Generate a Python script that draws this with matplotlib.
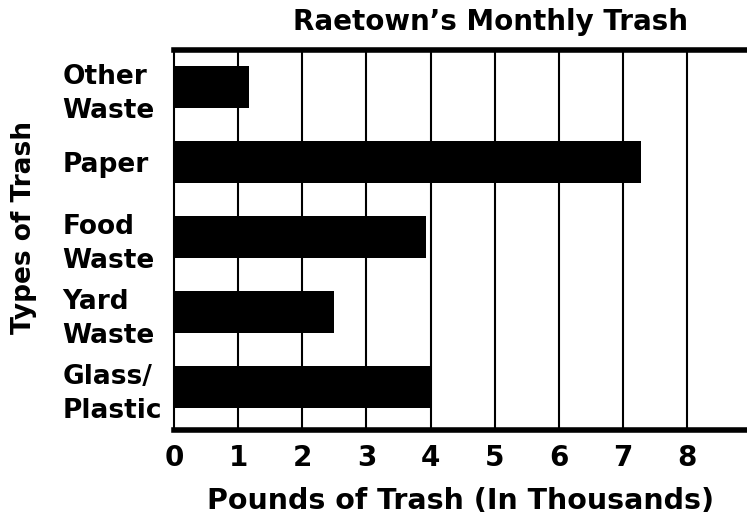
import numpy as np
import matplotlib.pyplot as plt

categories = ['Glass/\nPlastic', 'Yard\nWaste', 'Food\nWaste', 'Paper', 'Other\nWaste']
pounds = [4.0, 2.5, 3.93, 7.28, 1.17]
xticks = [0, 1, 2, 3, 4, 5, 6, 7, 8]

plt.rcParams['font.family'] = 'DejaVu Sans'
plt.rcParams['font.weight'] = 'bold'

fig = plt.figure(figsize=(7.47, 5.20), dpi=100)
ax = fig.add_axes([174/747, 90/520, 1 - 174/747, 380/520])

y = np.arange(len(categories))
ax.barh(y, pounds, height=0.56, color='black', zorder=3)

ax.set_xlim(0, 8.93)
ax.set_ylim(-0.57, 4.5)
ax.set_xticks(xticks)
ax.set_yticks(y)
ax.set_yticklabels(categories, ha='left', linespacing=1.4)
for v in xticks[1:]:
    ax.axvline(v, color='black', lw=1.5, zorder=2)

ax.tick_params(axis='both', length=0)
ax.tick_params(axis='x', pad=10, labelsize=20)
ax.tick_params(axis='y', pad=80.5, labelsize=19)

ax.spines['right'].set_visible(False)
ax.spines['top'].set_linewidth(4)
ax.spines['bottom'].set_linewidth(4)
ax.spines['left'].set_linewidth(1.5)

ax.set_xlabel('Pounds of Trash (In Thousands)', fontsize=20.5, fontweight='bold', labelpad=11)
fig.text(24/747, 1 - 228/520, 'Types of Trash', rotation=90, fontsize=19,
         fontweight='bold', ha='center', va='center')
fig.text(490/747, 1 - 22/520, "Raetown\u2019s Monthly Trash", fontsize=20,
         fontweight='bold', ha='center', va='center')

fig.savefig('out.png', dpi=100)
